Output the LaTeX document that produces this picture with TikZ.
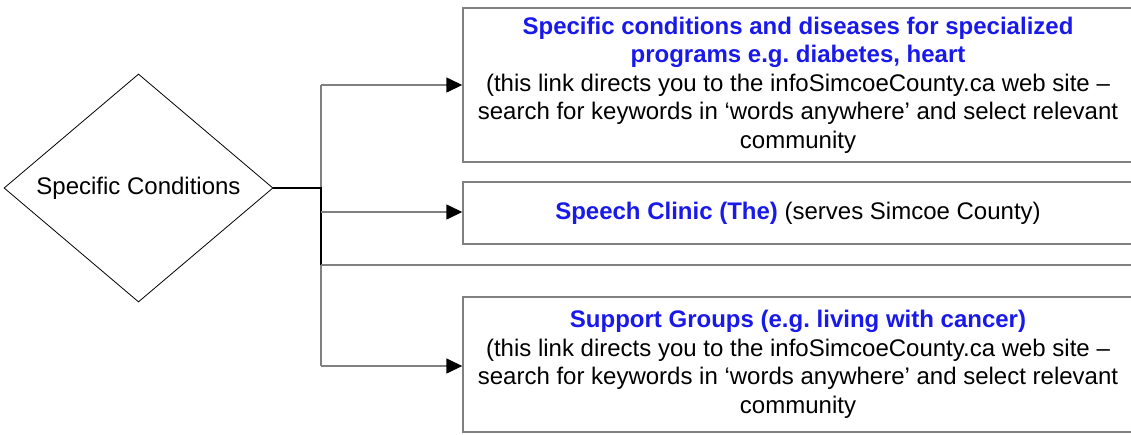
\documentclass[tikz,border=0pt]{standalone}
\usepackage{fontspec}
\setmainfont{Liberation Sans}
\frenchspacing
\usetikzlibrary{shapes.geometric,arrows.meta}
\definecolor{linkblue}{RGB}{25,25,235}
\definecolor{edge}{RGB}{128,128,128}
\tikzset{
  every node/.style={font=\fontsize{24}{28.5}\selectfont},
  cond/.style={shape=diamond, draw=black, line width=0.8pt, inner sep=0pt, minimum width=269pt, minimum height=228pt},
  infobox/.style={draw=edge, line width=1.4pt, align=center, inner sep=0pt, minimum width=670pt},
  conn/.style={draw=edge, line width=1.4pt},
  arr/.style={conn, -{Triangle[length=16pt,width=15pt,color=black]}},
}
\begin{document}
\begin{tikzpicture}[x={(1pt,0)}, y={(0,-1pt)}]
\useasboundingbox (0,0) rectangle (1131,434);
\fill[white] (0,0) rectangle (1131,434);
\node[cond] (d) at (138.5,188) {Specific Conditions};
\node[infobox, minimum height=154pt] (b1) at (798,85)
  {{\bfseries\color{linkblue}Specific conditions and diseases for specialized}\\
   {\bfseries\color{linkblue}programs e.g. diabetes, heart}\\
   (this link directs you to the infoSimcoeCounty.ca web site –\\
   search for keywords in ‘words anywhere’ and select relevant\\
   community};
\node[infobox, minimum height=62pt] (b2) at (798,213)
  {{\bfseries\color{linkblue}Speech Clinic (The)} (serves Simcoe County)};
\node[infobox, minimum height=135pt] (b3) at (798,364.5)
  {{\bfseries\color{linkblue}Support Groups (e.g. living with cancer)}\\
   (this link directs you to the infoSimcoeCounty.ca web site –\\
   search for keywords in ‘words anywhere’ and select relevant\\
   community};
\coordinate (j) at (321,188);
\coordinate (t1) at (321,85);
\coordinate (t2) at (321,212);
\coordinate (t4) at (321,265);
\coordinate (t3) at (321,366);
\coordinate (e4) at (1133,265);
\draw[conn] (t1) -- (t3);
\draw[line width=1.6pt, black] (d.east) -- (j) -- (t4);
\draw[conn] (t4) -- (e4);
\draw[arr] (t1) -- (t1 -| b1.west);
\draw[arr] (t2) -- (t2 -| b2.west);
\draw[arr] (t3) -- (t3 -| b3.west);
\end{tikzpicture}
\end{document}
